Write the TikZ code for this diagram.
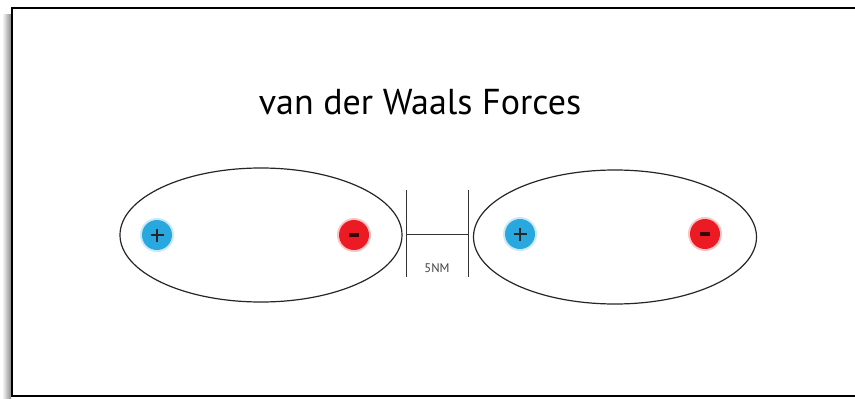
\documentclass[tikz,border=0pt]{standalone}
\usepackage{fontspec}
\usetikzlibrary{shapes.geometric}
\setmainfont{PT Sans}
\definecolor{posblue}{RGB}{41,168,224}
\definecolor{negred}{RGB}{236,26,34}
\begin{document}
\begin{tikzpicture}[x=1pt,y=-1pt,
  molecule/.style={draw=black!85, line width=1.2pt},
  plus/.style={circle, fill=posblue, minimum size=30pt, inner sep=0pt},
  minus/.style={circle, fill=negred, minimum size=30pt, inner sep=0pt},
  glow/.style={circle, fill=#1, opacity=0.25, minimum size=34pt, inner sep=0pt},
  bar/.style={draw=black!80, line width=1pt}]
  % page
  \useasboundingbox (0,0) rectangle (855,399);
  \fill[white] (0,0) rectangle (855,399);
  % soft shadow along the left edge of the frame
  \shade[left color=white, right color=black!45] (2,14) rectangle (11,399);
  % frame (open on the right)
  \draw[line width=2.2pt] (855,8) -- (12,8) -- (12,396) -- (855,396);

  % title
  \node (title) at (420,102) {\fontsize{36}{40}\selectfont van der Waals Forces};

  % molecules
  \node[molecule, ellipse, minimum width=282pt, minimum height=134pt] (leftmol) at (261,235) {};
  \node[molecule, ellipse, minimum width=283pt, minimum height=134pt] (rightmol) at (615,237) {};

  % charges
  \node[glow=posblue] at (157,235) {};
  \node[plus] (p1) at (157,235) {};
  \node[glow=negred] at (354,235) {};
  \node[minus] (m1) at (354,235) {};
  \node[glow=posblue] at (520,234) {};
  \node[plus] (p2) at (520,234) {};
  \node[glow=negred] at (705,234) {};
  \node[minus] (m2) at (705,234) {};
  \foreach \n in {p1,p2} {
    \draw[line width=1.7pt, black!85] ([xshift=-6.5pt]\n.center) -- ([xshift=6.5pt]\n.center);
    \draw[line width=1.7pt, black!85] ([yshift=-6.5pt]\n.center) -- ([yshift=6.5pt]\n.center);
  }
  \foreach \n in {m1,m2} {
    \draw[line width=3.2pt, black!75!negred] ([xshift=-5pt]\n.center) -- ([xshift=5pt]\n.center);
  }

  % separation marker
  \coordinate (lt) at (406,190);
  \coordinate (lb) at (406,277);
  \coordinate (rt) at (468,190);
  \coordinate (rb) at (468,277);
  \coordinate (lm) at (406,234);
  \coordinate (rm) at (468,234);
  \draw[bar] (lt) -- (lb);
  \draw[bar] (rt) -- (rb);
  \draw[bar] (lm) -- (rm);
  \node[font=\fontsize{12.5}{14}\selectfont, text=black!75] (dist) at (437,268) {5NM};
\end{tikzpicture}
\end{document}
